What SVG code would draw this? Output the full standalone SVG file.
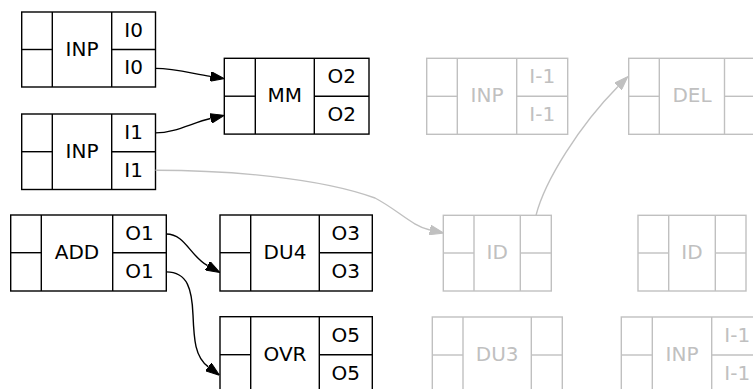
<svg xmlns="http://www.w3.org/2000/svg" width="753" height="389" viewBox="0 0 753 389">
<style>
.b rect,.b line{fill:none;stroke:#000;stroke-width:1.4}
.g rect,.g line{fill:none;stroke:#c0c0c0;stroke-width:1.4}
text{font-family:"DejaVu Sans",sans-serif;font-size:20px;text-anchor:middle}
.b text{fill:#000}
.g text{fill:#c0c0c0}
.eb{fill:none;stroke:#000;stroke-width:1.4}
.eg{fill:none;stroke:#c0c0c0;stroke-width:1.4}
</style>
<defs>
<marker id="ab" markerUnits="userSpaceOnUse" viewBox="0 0 14 10" refX="0" refY="5" markerWidth="14" markerHeight="10" orient="auto"><path d="M0,0.1 L14,5 L0,9.9 z" fill="#000" stroke="#000" stroke-width="1"/></marker>
<marker id="ag" markerUnits="userSpaceOnUse" viewBox="0 0 14 10" refX="0" refY="5" markerWidth="14" markerHeight="10" orient="auto"><path d="M0,0.1 L14,5 L0,9.9 z" fill="#c0c0c0" stroke="#c0c0c0" stroke-width="1"/></marker>
</defs>

<g id="inp0" class="b">
<rect x="21.7" y="12" width="133.8" height="75"/>
<line x1="52.3" y1="12" x2="52.3" y2="87"/><line x1="111.7" y1="12" x2="111.7" y2="87"/>
<line x1="21.7" y1="49.5" x2="52.3" y2="49.5"/><line x1="111.7" y1="49.5" x2="155.5" y2="49.5"/>
<text x="82" y="55.5">INP</text><text x="133.6" y="36.9">I0</text><text x="133.6" y="74.4">I0</text>
</g>

<g id="inp1" class="b">
<rect x="21.7" y="114" width="133.8" height="75.5"/>
<line x1="52.3" y1="114" x2="52.3" y2="189.5"/><line x1="111.7" y1="114" x2="111.7" y2="189.5"/>
<line x1="21.7" y1="151.7" x2="52.3" y2="151.7"/><line x1="111.7" y1="151.7" x2="155.5" y2="151.7"/>
<text x="82" y="157.7">INP</text><text x="133.6" y="138.9">I1</text><text x="133.6" y="176.6">I1</text>
</g>

<g id="mm" class="b">
<rect x="224.3" y="58.3" width="144.7" height="75.8"/>
<line x1="255.3" y1="58.3" x2="255.3" y2="134.1"/><line x1="314.3" y1="58.3" x2="314.3" y2="134.1"/>
<line x1="224.3" y1="96.2" x2="255.3" y2="96.2"/><line x1="314.3" y1="96.2" x2="369" y2="96.2"/>
<text x="284.8" y="102.2">MM</text><text x="341.7" y="83.3">O2</text><text x="341.7" y="121.2">O2</text>
</g>

<g id="add" class="b">
<rect x="10.7" y="215" width="155.6" height="76"/>
<line x1="41.3" y1="215" x2="41.3" y2="291"/><line x1="112.7" y1="215" x2="112.7" y2="291"/>
<line x1="10.7" y1="252.7" x2="41.3" y2="252.7"/><line x1="112.7" y1="252.7" x2="166.3" y2="252.7"/>
<text x="77" y="258.7">ADD</text><text x="139.5" y="239.9">O1</text><text x="139.5" y="277.9">O1</text>
</g>

<g id="du4" class="b">
<rect x="220" y="215" width="152.3" height="76"/>
<line x1="250.7" y1="215" x2="250.7" y2="291"/><line x1="319.3" y1="215" x2="319.3" y2="291"/>
<line x1="220" y1="252.7" x2="250.7" y2="252.7"/><line x1="319.3" y1="252.7" x2="372.3" y2="252.7"/>
<text x="285" y="258.7">DU4</text><text x="345.8" y="239.9">O3</text><text x="345.8" y="277.9">O3</text>
</g>

<g id="ovr" class="b">
<rect x="220" y="316.7" width="152.3" height="76"/>
<line x1="250.7" y1="316.7" x2="250.7" y2="392.7"/><line x1="319.3" y1="316.7" x2="319.3" y2="392.7"/>
<line x1="220" y1="354.7" x2="250.7" y2="354.7"/><line x1="319.3" y1="354.7" x2="372.3" y2="354.7"/>
<text x="285" y="360.7">OVR</text><text x="345.8" y="341.7">O5</text><text x="345.8" y="379.7">O5</text>
</g>

<g id="inp2" class="g">
<rect x="426.7" y="58.3" width="141" height="76"/>
<line x1="457.3" y1="58.3" x2="457.3" y2="134.3"/><line x1="516.7" y1="58.3" x2="516.7" y2="134.3"/>
<line x1="426.7" y1="96.3" x2="457.3" y2="96.3"/><line x1="516.7" y1="96.3" x2="567.7" y2="96.3"/>
<text x="487" y="102.3">INP</text><text x="542.2" y="83.3">I-1</text><text x="542.2" y="121.3">I-1</text>
</g>

<g id="del" class="g">
<rect x="628.7" y="58.3" width="127.3" height="76"/>
<line x1="659.3" y1="58.3" x2="659.3" y2="134.3"/><line x1="724.5" y1="58.3" x2="724.5" y2="134.3"/>
<line x1="628.7" y1="96.3" x2="659.3" y2="96.3"/><line x1="724.5" y1="96.3" x2="756" y2="96.3"/>
<text x="692" y="102.3">DEL</text>
</g>

<g id="id1" class="g">
<rect x="443.3" y="215.3" width="108" height="75.7"/>
<line x1="474" y1="215.3" x2="474" y2="291"/><line x1="520.3" y1="215.3" x2="520.3" y2="291"/>
<line x1="443.3" y1="253" x2="474" y2="253"/><line x1="520.3" y1="253" x2="551.3" y2="253"/>
<text x="497.2" y="259">ID</text>
</g>

<g id="id2" class="g">
<rect x="638" y="215.3" width="108" height="75.7"/>
<line x1="668.7" y1="215.3" x2="668.7" y2="291"/><line x1="715.3" y1="215.3" x2="715.3" y2="291"/>
<line x1="638" y1="253" x2="668.7" y2="253"/><line x1="715.3" y1="253" x2="746" y2="253"/>
<text x="692" y="259">ID</text>
</g>

<g id="du3" class="g">
<rect x="432.3" y="317" width="130" height="76"/>
<line x1="463" y1="317" x2="463" y2="393"/><line x1="531.3" y1="317" x2="531.3" y2="393"/>
<line x1="432.3" y1="355" x2="463" y2="355"/><line x1="531.3" y1="355" x2="562.3" y2="355"/>
<text x="497.2" y="361">DU3</text>
</g>

<g id="inp3" class="g">
<rect x="621.3" y="317" width="141.4" height="76"/>
<line x1="652.3" y1="317" x2="652.3" y2="393"/><line x1="711.7" y1="317" x2="711.7" y2="393"/>
<line x1="621.3" y1="355" x2="652.3" y2="355"/><line x1="711.7" y1="355" x2="762.7" y2="355"/>
<text x="682" y="361">INP</text><text x="737.2" y="342">I-1</text><text x="737.2" y="380">I-1</text>
</g>

<g id="edges">
<path class="eb" marker-end="url(#ab)" d="M155.5,68.4 C175,68.4 192,73.5 210.4,76.4"/>
<path class="eb" marker-end="url(#ab)" d="M155.5,132.9 C175,132.9 192,122.8 210.6,118.5"/>
<path class="eg" marker-end="url(#ag)" d="M155.5,170.2 C230,170.2 320,178 375,198 C398,210 412,226 429.9,230"/>
<path class="eg" marker-end="url(#ag)" d="M536,215.3 C545,180 580,125 618,86.5"/>
<path class="eb" marker-end="url(#ab)" d="M166.3,234 C185,234 190,256 207.6,265.7"/>
<path class="eb" marker-end="url(#ab)" d="M166.3,271.9 C188,271.9 192,290 193,315 C194,340 195,357 208.3,366.9"/>
</g>
</svg>
